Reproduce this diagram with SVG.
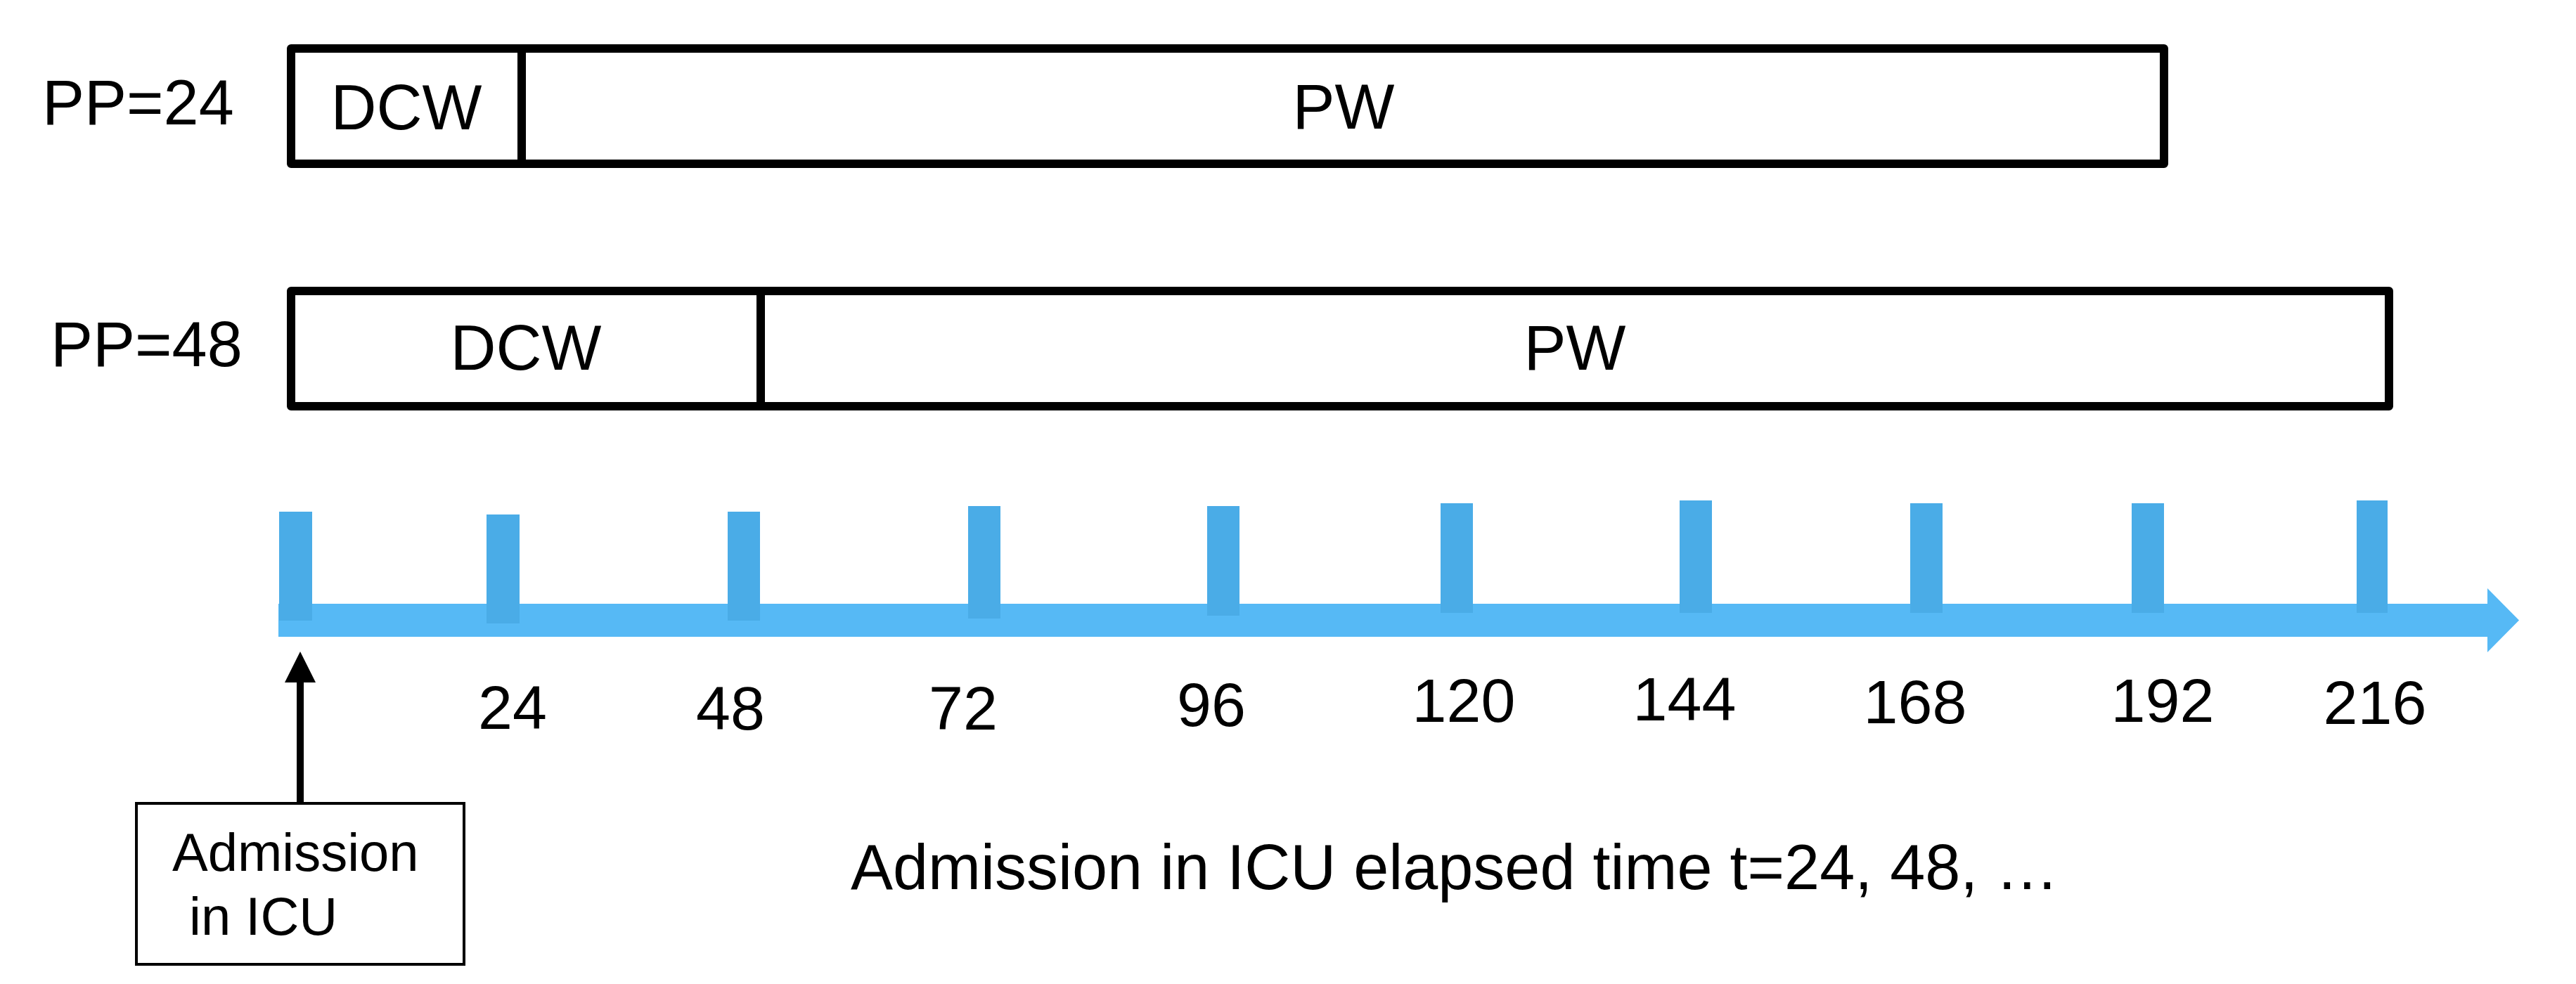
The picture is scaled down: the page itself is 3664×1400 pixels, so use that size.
<svg xmlns="http://www.w3.org/2000/svg" width="3664" height="1400" viewBox="0 0 3664 1400">
<style>
text{font-family:"Liberation Sans",Arial,sans-serif;fill:#000}
.lbl{font-size:90px}
.seg{fill:#fff;stroke:#000;stroke-width:12;stroke-linejoin:round}
.div{stroke:#000;stroke-width:12}
.tick{fill:#4AACE7}
.num{font-size:88px;text-anchor:middle}
.mid{text-anchor:middle}
</style>
<rect width="3664" height="1400" fill="#fff"/>
<g id="row24">
<text class="lbl" x="60" y="177">PP=24</text>
<rect class="seg" x="414" y="69" width="2664" height="164"/>
<line class="div" x1="742" y1="69" x2="742" y2="233"/>
<text class="lbl mid" x="578" y="184">DCW</text>
<text class="lbl mid" x="1911" y="183">PW</text>
</g>
<g id="row48">
<text class="lbl" x="72" y="521">PP=48</text>
<rect class="seg" x="414" y="414" width="2984" height="164"/>
<line class="div" x1="1082" y1="414" x2="1082" y2="578"/>
<text class="lbl mid" x="748" y="526">DCW</text>
<text class="lbl mid" x="2240" y="526">PW</text>
</g>
<g id="timeline">
<path d="M396 859 H3538 V837 L3583 882.5 L3538 928 V906 H396 Z" fill="#56B9F5"/>
<rect class="tick" x="397" y="728" width="47" height="155"/>
<rect class="tick" x="692" y="732" width="47" height="155"/>
<rect class="tick" x="1035" y="728" width="46" height="155"/>
<rect class="tick" x="1377" y="720" width="46" height="160"/>
<rect class="tick" x="1717" y="720" width="46" height="156"/>
<rect class="tick" x="2049" y="716" width="46" height="156"/>
<rect class="tick" x="2389" y="712" width="46" height="160"/>
<rect class="tick" x="2717" y="716" width="46" height="156"/>
<rect class="tick" x="3032" y="716" width="46" height="156"/>
<rect class="tick" x="3352" y="712" width="44" height="160"/>
<text class="num" x="729" y="1037">24</text>
<text class="num" x="1039" y="1038">48</text>
<text class="num" x="1370" y="1038">72</text>
<text class="num" x="1723" y="1033">96</text>
<text class="num" x="2082" y="1027">120</text>
<text class="num" x="2396" y="1025">144</text>
<text class="num" x="2724" y="1029">168</text>
<text class="num" x="3076" y="1027">192</text>
<text class="num" x="3378" y="1030">216</text>
</g>
<g id="admission">
<rect x="194" y="1143" width="466" height="229" fill="#fff" stroke="#000" stroke-width="4"/>
<text x="245" y="1239" font-size="76">Admission</text>
<text x="269" y="1330" font-size="76">in ICU</text>
</g>
<g id="connectors">
<line x1="427" y1="1143" x2="427" y2="965" stroke="#000" stroke-width="10"/>
<polygon points="427,927 449,971 405,971" fill="#000"/>
</g>
<g id="caption">
<text x="1210" y="1265" font-size="90">Admission in ICU elapsed time t=24, 48, …</text>
</g>
</svg>
